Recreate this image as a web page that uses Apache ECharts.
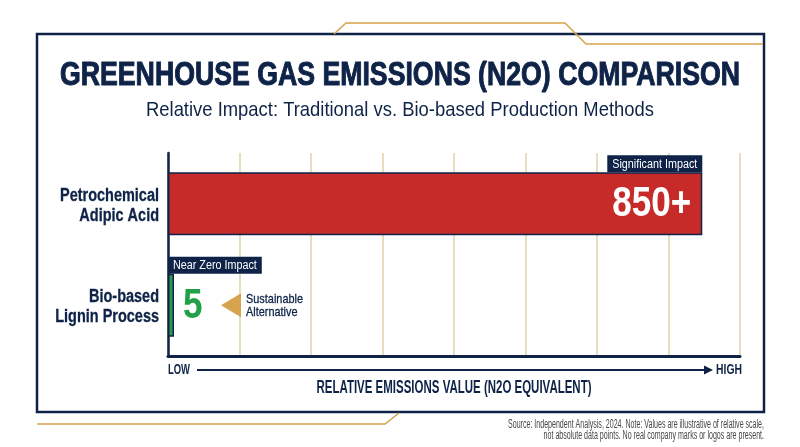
<!DOCTYPE html>
<html><head><meta charset="utf-8">
<script src="https://cdn.jsdelivr.net/npm/echarts@6/dist/echarts.min.js"></script>
<style>html,body{margin:0;padding:0;background:#fff}#c{width:800px;height:447px}</style>
</head><body><div id="c"></div>
<script>
// ---- data ----
var categories = ['Petrochemical\nAdipic Acid', 'Bio-based\nLignin Process'];
var emissionValues = [850, 5];
var valueLabels = ['850+', '5'];
var impactTags = ['Significant Impact', 'Near Zero Impact'];
var axisEndLabels = ['LOW', 'HIGH'];
var annotationText = 'Sustainable\nAlternative';
var titleText = 'GREENHOUSE GAS EMISSIONS (N2O) COMPARISON';
var subtitleText = 'Relative Impact: Traditional vs. Bio-based Production Methods';
var axisTitle = 'RELATIVE EMISSIONS VALUE (N2O EQUIVALENT)';
var sourceLines = ['Source: Independent Analysis, 2024. Note: Values are illustrative of relative scale,',
                   'not absolute data points. No real company marks or logos are present.'];
var axisMax = 910;
var tickCount = 8;

// ---- styles ----
var NAVY = '#0e2347', RED = '#c62b2a', GREEN_BAR = '#2e9a4b', GREEN_TXT = '#22a048',
    GOLD = '#d6a34e', GRIDC = '#e2d2ab';
var FF = '"Liberation Sans","Roboto",sans-serif';
var BAR_RATIO = 0.62;
var barColors = [RED, GREEN_BAR];
var labelColors = ['#ffffff', GREEN_TXT];

var mctx = document.createElement('canvas').getContext('2d');
function measure(text, font){
  mctx.font = font;
  return Math.max.apply(null, text.split('\n').map(function(t){ return mctx.measureText(t).width; }));
}
function fitScale(text, font, w){ return w / measure(text, font); }

var CAT_FONT = 'bold 18px ' + FF;
var VAL_FONT = 'bold 42px ' + FF;
var TAG_FONT = '12px ' + FF;
var ANN_FONT = '13px ' + FF;
var catScale = fitScale('Petrochemical', CAT_FONT, 99);
var valScale = fitScale('850+', VAL_FONT, 79);
var tagScale = fitScale('Significant Impact', TAG_FONT, 85);
var annScale = fitScale('Sustainable', ANN_FONT, 57);

function renderMarks(params, api){
  var i = params.dataIndex;
  var v = api.value(0), c = api.value(1);
  var end = api.coord([v, c]);
  var zero = api.coord([0, c]);
  var band = api.size([0, 1])[1];
  var barH = band * BAR_RATIO;
  var barTop = end[1] - barH / 2;
  var children = [];
  // category label
  children.push({type:'text', x:zero[0] - 9, y:end[1] + 2, scaleX:catScale,
    style:{text:categories[c], font:CAT_FONT, fill:NAVY, stroke:NAVY, lineWidth:0.3, align:'right', verticalAlign:'middle', lineHeight:20}});
  // value label
  var inside = (i === 0);
  children.push({type:'text', x:inside ? end[0] - 11 : zero[0] + 15, y:end[1] + 1, scaleX:valScale,
    style:{text:valueLabels[i], font:VAL_FONT, fill:labelColors[i], align:inside ? 'right' : 'left', verticalAlign:'middle'}});
  // tag box
  var tw = measure(impactTags[i], TAG_FONT) * tagScale;
  var bw = tw + 10, bh = 17;
  var bx = inside ? end[0] - bw : zero[0];
  children.push({type:'rect', shape:{x:bx, y:barTop - bh, width:bw, height:bh}, style:{fill:NAVY}});
  children.push({type:'text', x:bx + bw / 2, y:barTop - bh / 2 + 0.5, scaleX:tagScale,
    style:{text:impactTags[i], fill:'#fff', font:TAG_FONT, align:'center', verticalAlign:'middle'}});
  if (i === 1) {
    var tx = zero[0] + 53, cy = end[1];
    children.push({type:'polygon', shape:{points:[[tx, cy], [tx + 20, cy - 12], [tx + 20, cy + 12]]}, style:{fill:GOLD}});
    children.push({type:'text', x:tx + 25, y:cy + 1, scaleX:annScale,
      style:{text:annotationText, fill:NAVY, stroke:NAVY, lineWidth:0.3, font:ANN_FONT, lineHeight:13, align:'left', verticalAlign:'middle'}});
  }
  return {type:'group', children:children};
}

var titleFont = 'bold 33px ' + FF;
var subFont = '21px ' + FF;
var srcFont = '12px ' + FF;
var endFont = 'bold 15px ' + FF;
var nameFont = 'bold 18px ' + FF;

var chart = echarts.init(document.getElementById('c'), null, {renderer:'canvas'});
chart.setOption({
  backgroundColor:'#ffffff',
  animation:false,
  grid:{left:168, right:60, top:153, bottom:91, containLabel:false},
  xAxis:{
    type:'value', min:0, max:axisMax, interval:axisMax / tickCount,
    axisLine:{show:true, lineStyle:{color:NAVY, width:3}},
    axisTick:{show:false}, axisLabel:{show:false},
    splitLine:{show:true, lineStyle:{color:GRIDC, width:1.5}}
  },
  yAxis:{
    type:'category', data:categories, inverse:true,
    axisLine:{show:true, lineStyle:{color:NAVY, width:2.5}},
    axisTick:{show:false}, axisLabel:{show:false}
  },
  series:[
    {
      type:'bar', barWidth:(BAR_RATIO * 100) + '%', barMinHeight:6,
      data: emissionValues.map(function(v, i){
        return {value:v, itemStyle:{color:barColors[i], borderColor:NAVY, borderWidth:1.5}};
      }),
      z:3
    },
    {
      type:'custom', renderItem:renderMarks, encode:{x:0, y:1}, z:4, clip:false,
      data: emissionValues.map(function(v, i){ return [v, i]; })
    }
  ],
  graphic:[
    {type:'rect', shape:{x:37, y:34, width:727, height:378}, style:{fill:'none', stroke:NAVY, lineWidth:2.5}, z:-1},
    {type:'polyline', shape:{points:[[334,34],[346,23],[565,23],[586,44],[763,44]]}, style:{stroke:GOLD, lineWidth:1.5, fill:'none'}},
    {type:'polyline', shape:{points:[[37,424],[385,424],[399,413]]}, style:{stroke:GOLD, lineWidth:1.5, fill:'none'}},
    {type:'text', x:400, y:76, scaleX:fitScale(titleText, titleFont, 680),
     style:{text:titleText, font:titleFont, fill:NAVY, stroke:NAVY, lineWidth:1, align:'center', verticalAlign:'middle'}},
    {type:'text', x:400, y:110, scaleX:fitScale(subtitleText, subFont, 508),
     style:{text:subtitleText, font:subFont, fill:NAVY, align:'center', verticalAlign:'middle'}},
    {type:'text', x:168, y:370, scaleX:fitScale(axisEndLabels[0], endFont, 22),
     style:{text:axisEndLabels[0], font:endFont, fill:NAVY, align:'left', verticalAlign:'middle'}},
    {type:'text', x:742, y:370, scaleX:fitScale(axisEndLabels[1], endFont, 26),
     style:{text:axisEndLabels[1], font:endFont, fill:NAVY, align:'right', verticalAlign:'middle'}},
    {type:'line', shape:{x1:197, y1:370, x2:706, y2:370}, style:{stroke:NAVY, lineWidth:2}},
    {type:'polygon', shape:{points:[[713,370],[704,365.5],[704,374.5]]}, style:{fill:NAVY}},
    {type:'text', x:454, y:388, scaleX:fitScale(axisTitle, nameFont, 275),
     style:{text:axisTitle, font:nameFont, fill:NAVY, align:'center', verticalAlign:'middle'}},
    {type:'text', x:764, y:425, scaleX:fitScale(sourceLines[0], srcFont, 256),
     style:{text:sourceLines[0], font:srcFont, fill:'#474747', align:'right', verticalAlign:'middle'}},
    {type:'text', x:764, y:436, scaleX:fitScale(sourceLines[0], srcFont, 256),
     style:{text:sourceLines[1], font:srcFont, fill:'#474747', align:'right', verticalAlign:'middle'}}
  ]
});
</script>
</body></html>
